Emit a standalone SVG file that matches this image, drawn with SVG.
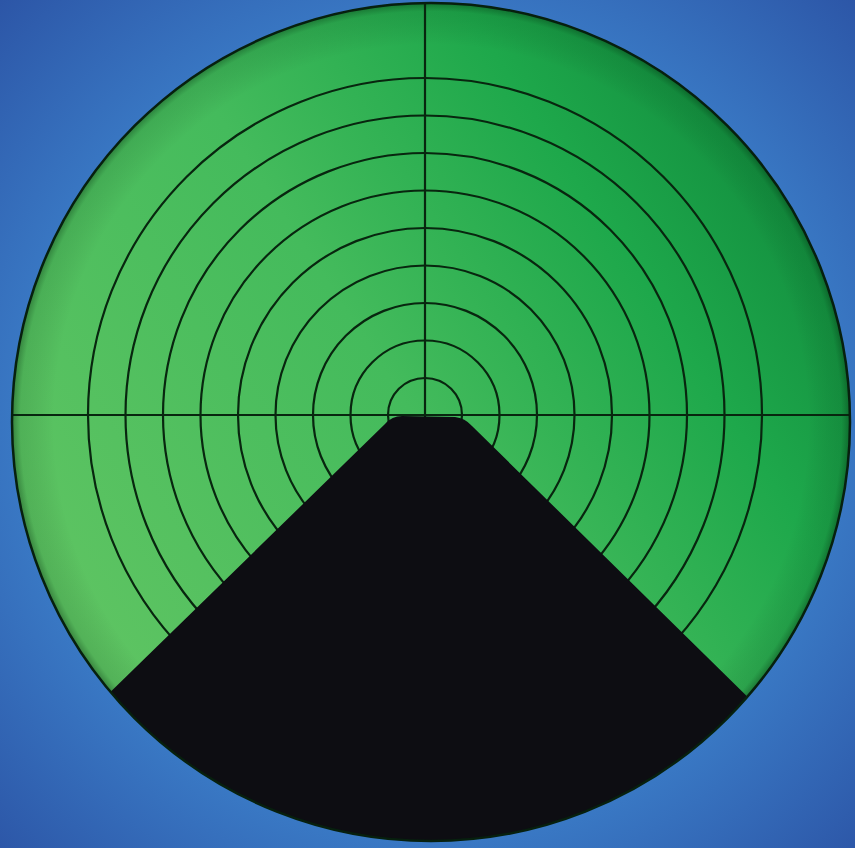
<svg xmlns="http://www.w3.org/2000/svg" width="855" height="848" viewBox="0 0 855 848">
  <defs>
    <radialGradient id="bg" cx="430" cy="430" r="640" gradientUnits="userSpaceOnUse">
      <stop offset="0" stop-color="#3f86cf"/>
      <stop offset="0.6" stop-color="#3b7dc8"/>
      <stop offset="1" stop-color="#2a50a2"/>
    </radialGradient>
    <linearGradient id="green" x1="60" y1="600" x2="800" y2="120" gradientUnits="userSpaceOnUse">
      <stop offset="0" stop-color="#5ec462"/>
      <stop offset="0.45" stop-color="#44bb5c"/>
      <stop offset="0.75" stop-color="#1ea84b"/>
      <stop offset="1" stop-color="#10893c"/>
    </linearGradient>
    <radialGradient id="rim" cx="431" cy="422" r="419" gradientUnits="userSpaceOnUse">
      <stop offset="0.9" stop-color="#000" stop-opacity="0"/>
      <stop offset="0.98" stop-color="#003010" stop-opacity="0.12"/>
      <stop offset="1" stop-color="#002008" stop-opacity="0.4"/>
    </radialGradient>
    <clipPath id="disc">
      <circle cx="431" cy="422" r="419"/>
    </clipPath>
    <style>
      .ring { fill: none; stroke: #08260f; stroke-width: 2.2; }
      .hair { stroke: #08260f; stroke-width: 2.2; }
    </style>
  </defs>

  <rect id="background" x="0" y="0" width="855" height="848" fill="url(#bg)"/>

  <g id="disc-face">
    <circle cx="431" cy="422" r="419" fill="url(#green)"/>
    <circle cx="431" cy="422" r="419" fill="url(#rim)"/>
  </g>

  <g id="reticle" clip-path="url(#disc)">
    <circle class="ring" cx="425" cy="415" r="37"/>
    <circle class="ring" cx="425" cy="415" r="74.5"/>
    <circle class="ring" cx="425" cy="415" r="112"/>
    <circle class="ring" cx="425" cy="415" r="149.5"/>
    <circle class="ring" cx="425" cy="415" r="187"/>
    <circle class="ring" cx="425" cy="415" r="224.5"/>
    <circle class="ring" cx="425" cy="415" r="262"/>
    <circle class="ring" cx="425" cy="415" r="299.5"/>
    <circle class="ring" cx="425" cy="415" r="337"/>
    <line class="hair" x1="0" y1="415" x2="855" y2="415"/>
    <line class="hair" x1="425" y1="0" x2="425" y2="420"/>
  </g>

  <g id="tool-tip" clip-path="url(#disc)">
    <path d="M 95,707 L 385,424 Q 392,416 402,416 L 455,417 Q 465,418 472,426 L 765,714 L 765,900 L 95,900 Z" fill="#0d0d12"/>
  </g>

  <g id="disc-edge">
    <circle cx="431" cy="422" r="419" fill="none" stroke="#07200e" stroke-width="2.5"/>
  </g>
</svg>
